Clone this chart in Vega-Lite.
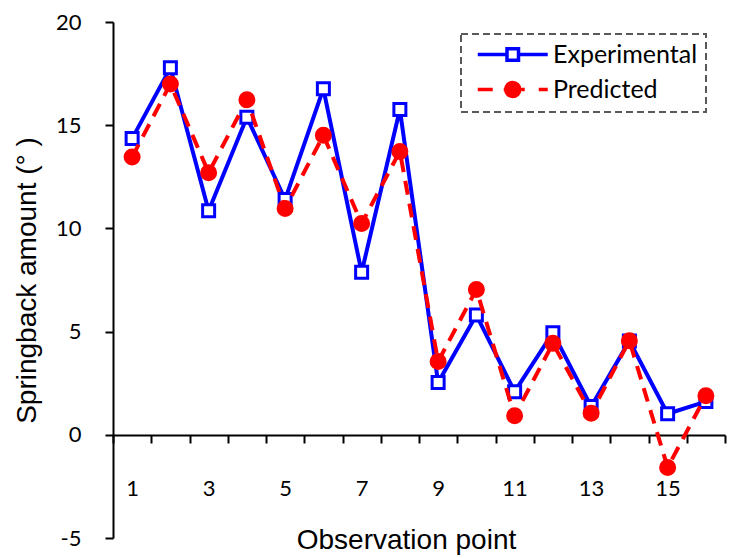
{
  "$schema": "https://vega.github.io/schema/vega-lite/v6.json",
  "autosize": "none",
  "width": 612,
  "height": 516,
  "padding": {"left": 113, "top": 22, "right": 8, "bottom": 20},
  "background": "white",
  "config": {"view": {"stroke": null}, "legend": {"strokeDash": [7, 4], "strokeWidth": 2}},
  "data": {"values": [
    {"point": 1, "series": "Experimental", "value": 14.35},
    {"point": 2, "series": "Experimental", "value": 17.78},
    {"point": 3, "series": "Experimental", "value": 10.85},
    {"point": 4, "series": "Experimental", "value": 15.39},
    {"point": 5, "series": "Experimental", "value": 11.40},
    {"point": 6, "series": "Experimental", "value": 16.76},
    {"point": 7, "series": "Experimental", "value": 7.87},
    {"point": 8, "series": "Experimental", "value": 15.76},
    {"point": 9, "series": "Experimental", "value": 2.53},
    {"point": 10, "series": "Experimental", "value": 5.80},
    {"point": 11, "series": "Experimental", "value": 2.09},
    {"point": 12, "series": "Experimental", "value": 4.95},
    {"point": 13, "series": "Experimental", "value": 1.37},
    {"point": 14, "series": "Experimental", "value": 4.55},
    {"point": 15, "series": "Experimental", "value": 1.02},
    {"point": 16, "series": "Experimental", "value": 1.61},
    {"point": 1, "series": "Predicted", "value": 13.46},
    {"point": 2, "series": "Predicted", "value": 17.0},
    {"point": 3, "series": "Predicted", "value": 12.70},
    {"point": 4, "series": "Predicted", "value": 16.23},
    {"point": 5, "series": "Predicted", "value": 10.96},
    {"point": 6, "series": "Predicted", "value": 14.51},
    {"point": 7, "series": "Predicted", "value": 10.24},
    {"point": 8, "series": "Predicted", "value": 13.73},
    {"point": 9, "series": "Predicted", "value": 3.55},
    {"point": 10, "series": "Predicted", "value": 7.04},
    {"point": 11, "series": "Predicted", "value": 0.92},
    {"point": 12, "series": "Predicted", "value": 4.43},
    {"point": 13, "series": "Predicted", "value": 1.05},
    {"point": 14, "series": "Predicted", "value": 4.56},
    {"point": 15, "series": "Predicted", "value": -1.58},
    {"point": 16, "series": "Predicted", "value": 1.89}
  ]},
  "encoding": {
    "x": {
      "field": "point", "type": "quantitative",
      "scale": {"domain": [0.5, 16.5], "nice": false, "zero": false},
      "axis": {
        "values": [0.5, 1, 1.5, 2.5, 3, 3.5, 4.5, 5, 5.5, 6.5, 7, 7.5, 8.5, 9, 9.5, 10.5, 11, 11.5, 12.5, 13, 13.5, 14.5, 15, 15.5, 16.5],
        "labelExpr": "datum.value % 2 == 1 ? format(datum.value, 'd') : ''",
        "labelOverlap": false,
        "labelFlush": false,
        "tickOpacity": {"condition": {"test": "datum.value % 1 != 0", "value": 1}, "value": 0},
        "offset": -103,
        "tickSize": 8,
        "tickWidth": 2,
        "tickColor": "black",
        "domainColor": "black",
        "domainWidth": 2,
        "grid": false,
        "labelFont": "Lato",
        "labelFontSize": 22,
        "labelColor": "black",
        "labelPadding": 35,
        "title": "Observation point",
        "titleFont": "Liberation Sans",
        "titleFontSize": 28,
        "titleFontWeight": "normal",
        "titleColor": "black",
        "titlePadding": 27,
        "titleX": 293,
        "titleAlign": "center"
      }
    },
    "y": {
      "field": "value", "type": "quantitative",
      "scale": {"domain": [-5, 20], "nice": false, "zero": false},
      "axis": {
        "values": [-5, 0, 5, 10, 15, 20],
        "labelExpr": "'' + datum.value",
        "tickSize": 8,
        "tickWidth": 2,
        "tickColor": "black",
        "domainColor": "black",
        "domainWidth": 2,
        "grid": false,
        "labelFont": "Lato",
        "labelFontSize": 22,
        "labelColor": "black",
        "labelPadding": 24,
        "title": "Springback amount (° )",
        "titleFont": "Liberation Sans",
        "titleFontSize": 28,
        "titleFontWeight": "normal",
        "titleColor": "black",
        "titlePadding": 14
      }
    }
  },
  "layer": [
    {
      "mark": {
        "type": "point", "filled": true, "opacity": 0,
        "fill": {"expr": "datum.value === 'Experimental' ? 'white' : '#FF0000'"},
        "stroke": {"expr": "datum.value === 'Experimental' ? '#0000FF' : '#FF0000'"}
      },
      "encoding": {
        "shape": {
          "field": "series", "type": "nominal",
          "scale": {"domain": ["Experimental", "Predicted"], "range": ["M-0.375,0H2.55M3.7,0H6.625M2.55,-0.575H3.7V0.575H2.55Z", "M-0.375,0H1.125M2.225,0H4.325M5.725,0H6.625M2.425,0A0.7,0.7,0,1,1,3.825,0A0.7,0.7,0,1,1,2.425,0Z"]},
          "legend": {
            "title": null,
            "orient": "none",
            "legendX": 348,
            "legendY": 12,
            "padding": 8,
            "strokeColor": "#595959",
            "symbolSize": 400,
            "symbolStrokeWidth": 3.5,
            "symbolOpacity": 1,
            "labelOffset": 59,
            "labelFont": "Lato",
            "labelFontSize": 25,
            "labelColor": "black",
            "rowPadding": 7
          }
        }
      }
    },
    {
      "transform": [{"filter": "datum.series === 'Experimental'"}],
      "mark": {"type": "line", "color": "#0000FF", "strokeWidth": 4}
    },
    {
      "transform": [{"filter": "datum.series === 'Experimental'"}],
      "mark": {"type": "point", "shape": "square", "filled": true, "fill": "white", "stroke": "#0000FF", "strokeWidth": 3, "size": 144, "opacity": 1}
    },
    {
      "transform": [{"filter": "datum.series === 'Predicted'"}],
      "mark": {"type": "line", "color": "#FF0000", "strokeWidth": 4, "strokeDash": [14, 9]}
    },
    {
      "transform": [{"filter": "datum.series === 'Predicted'"}],
      "mark": {"type": "point", "shape": "circle", "filled": true, "fill": "#FF0000", "stroke": "#FF0000", "strokeWidth": 3, "size": 196, "opacity": 1}
    }
  ]
}
